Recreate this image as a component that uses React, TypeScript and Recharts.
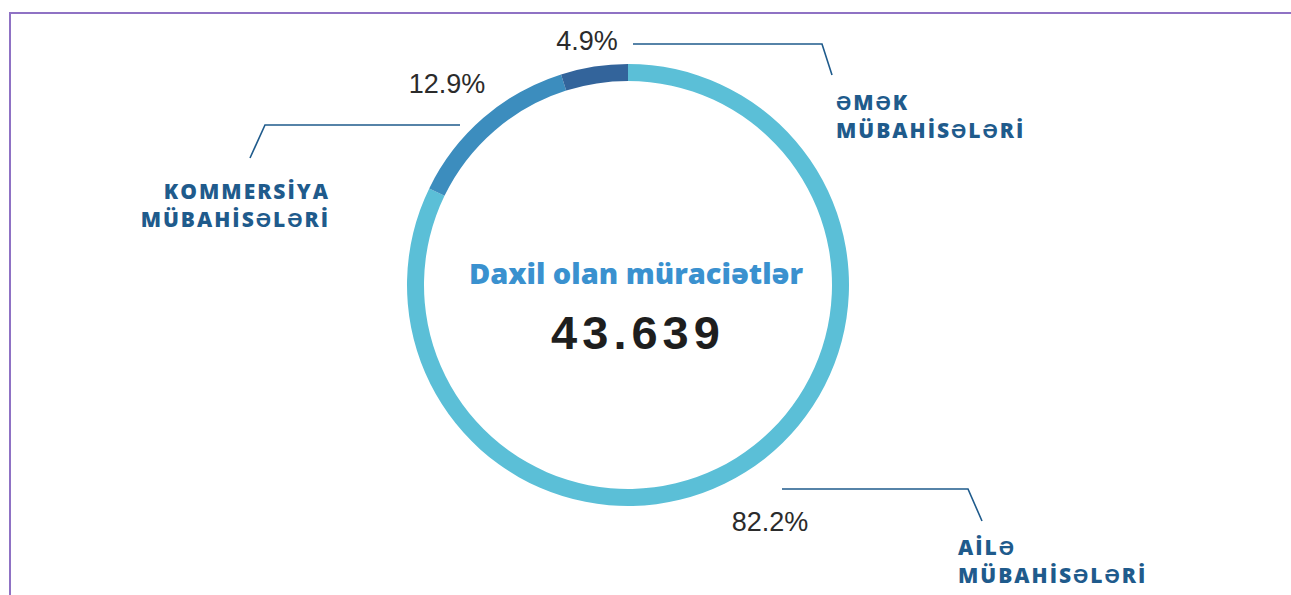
import React from "react";
import { PieChart, Pie, Cell } from "recharts";

const categories = ["Ailə mübahisələri", "Kommersiya mübahisələri", "Əmək mübahisələri"];
const categoryLines = [
  ["AİLƏ", "MÜBAHİSƏLƏRİ"],
  ["KOMMERSİYA", "MÜBAHİSƏLƏRİ"],
  ["ƏMƏK", "MÜBAHİSƏLƏRİ"],
];
const shares = [82.2, 12.9, 4.9];
const centerTitle = "Daxil olan müraciətlər";
const centerTotal = "43.639";

const colors = ["#5bbfd7", "#3c8dbe", "#33649b"];
const lineColor = "#1f5b8c";

// callout geometry, offsets from the pie centre
const callouts = [
  { line: [[154, 204], [340, 204], [354, 236]], pct: [142, 246], name: [330, 270], anchor: "start" },
  { line: [[-168, -160], [-363, -160], [-378, -127]], pct: [-181, -192], name: [-298, -86], anchor: "end" },
  { line: [[5, -241], [194, -241], [204, -210]], pct: [-41, -235], name: [208, -175], anchor: "start" },
];

const data = categories.map((name, i) => ({ name, value: shares[i] }));

const centerText = (cx: number, cy: number) => (
  <g>
    <text
      x={cx + 8}
      y={cy - 1}
      textAnchor="middle"
      fill="#3a91cf"
      style={{ fontFamily: "'Open Sans', sans-serif", fontSize: 29, fontWeight: 800 }}
    >
      {centerTitle}
    </text>
    <text
      x={cx + 10}
      y={cy + 64}
      textAnchor="middle"
      fill="#1e1e1e"
      style={{ fontFamily: "'Liberation Sans', Arial, sans-serif", fontSize: 47, fontWeight: 700, letterSpacing: 5 }}
    >
      {centerTotal}
    </text>
  </g>
);

const renderCallout = (props: any) => {
  const { cx, cy, index, value } = props;
  const c = callouts[index];
  const d = c.line.map(([x, y], k) => `${k ? "L" : "M"}${cx + x},${cy + y}`).join(" ");
  return (
    <g key={`callout-${index}`}>
      {index === 0 && centerText(cx, cy)}
      <path d={d} stroke={lineColor} strokeWidth={1.6} fill="none" />
      <text
        x={cx + c.pct[0]}
        y={cy + c.pct[1]}
        textAnchor="middle"
        fill="#2b2b2b"
        style={{ fontFamily: "'Liberation Sans', Arial, sans-serif", fontSize: 27 }}
      >
        {value.toFixed(1)}%
      </text>
      {categoryLines[index].map((t, k) => (
        <text
          key={k}
          x={cx + c.name[0]}
          y={cy + c.name[1] + k * 28}
          textAnchor={c.anchor}
          fill={lineColor}
          style={{ fontFamily: "'Open Sans', sans-serif", fontSize: 21, fontWeight: 800, letterSpacing: 2 }}
        >
          {t}
        </text>
      ))}
    </g>
  );
};

export default function App() {
  return (
    <div style={{ position: "relative", width: 1291, height: 595, background: "#fff", overflow: "hidden" }}>
      <style>{"html,body{margin:0;padding:0;overflow:hidden}"}</style>
      <div
        style={{
          position: "absolute",
          left: 9,
          top: 12,
          width: 1300,
          height: 600,
          borderTop: "2px solid #8f72c4",
          borderLeft: "2px solid #8f72c4",
        }}
      />
      <PieChart
        width={1291}
        height={595}
        margin={{ top: 0, right: 0, bottom: 0, left: 0 }}
        style={{ position: "absolute", left: 0, top: 0 }}
      >
        <Pie
          data={data}
          dataKey="value"
          nameKey="name"
          cx={628}
          cy={285}
          innerRadius={204}
          outerRadius={221}
          startAngle={90}
          endAngle={-270}
          stroke="none"
          isAnimationActive={false}
          label={renderCallout}
          labelLine={false}
        >
          {data.map((d, i) => (
            <Cell key={d.name} fill={colors[i]} />
          ))}
        </Pie>
      </PieChart>
    </div>
  );
}
